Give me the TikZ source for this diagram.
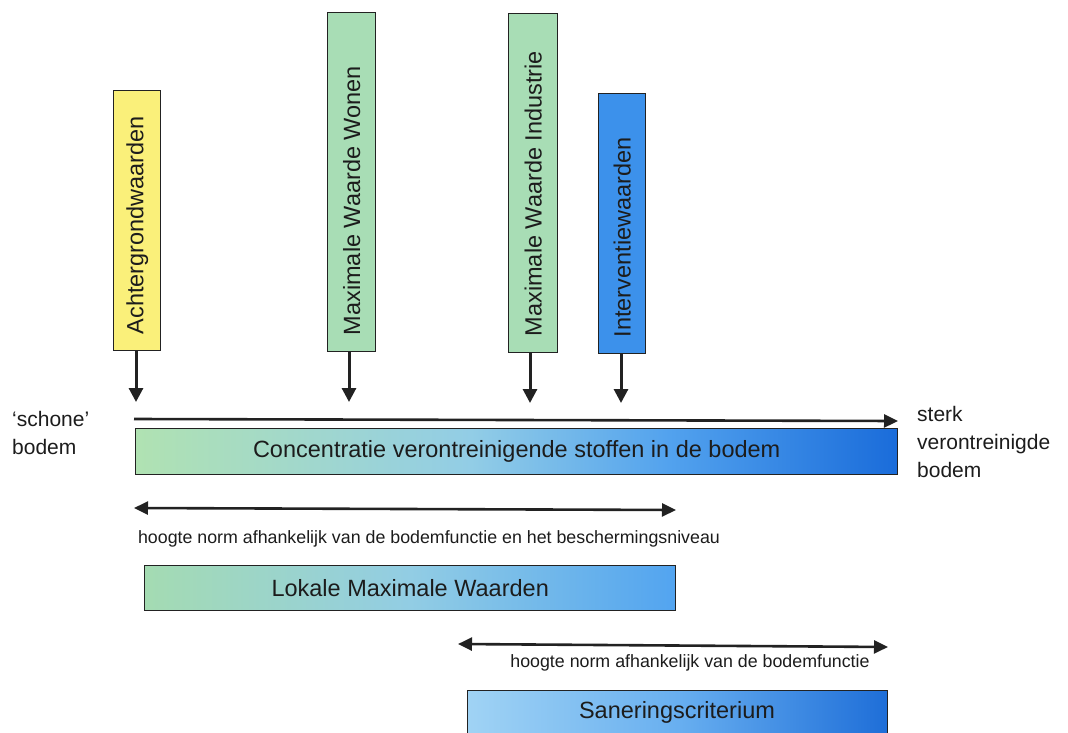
\documentclass[tikz,border=0pt]{standalone}
\usepackage{fontspec}
\setmainfont{Liberation Sans}
\usetikzlibrary{arrows.meta}
\definecolor{txt}{HTML}{1C1C1C}
\definecolor{ink}{HTML}{222222}
\definecolor{yel}{HTML}{FAF07A}
\definecolor{mint}{HTML}{A8DDB5}
\definecolor{blu}{HTML}{3C91EB}
\definecolor{cA}{HTML}{B0E2B2}
\definecolor{cB}{HTML}{92CDE6}
\definecolor{cC}{HTML}{52A2EE}
\definecolor{cD}{HTML}{1A6CDA}
\definecolor{lA}{HTML}{A4DBB2}
\definecolor{lB}{HTML}{92CDE4}
\definecolor{lD}{HTML}{52A4F0}
\definecolor{sA}{HTML}{A0D3F4}
\definecolor{sB}{HTML}{68AFF0}
\definecolor{sD}{HTML}{1E6ED8}
\pgfdeclarehorizontalshading{concshade}{100bp}{color(0bp)=(cA); color(25bp)=(cA); color(47bp)=(cB); color(60bp)=(cC); color(75bp)=(cD); color(100bp)=(cD)}
\pgfdeclarehorizontalshading{lokshade}{100bp}{color(0bp)=(lA); color(25bp)=(lA); color(50bp)=(lB); color(75bp)=(lD); color(100bp)=(lD)}
\pgfdeclarehorizontalshading{sanshade}{100bp}{color(0bp)=(sA); color(25bp)=(sA); color(50bp)=(sB); color(75bp)=(sD); color(100bp)=(sD)}
\begin{document}
\begin{tikzpicture}[x=1pt,y=-1pt,
  box/.style={draw=ink, line width=1.4pt, inner sep=0pt, anchor=north west},
  vlabel/.style={rotate=90, anchor=west, inner sep=0pt, text=txt, font=\fontsize{23.5}{28}\selectfont},
  big/.style={text=txt, font=\fontsize{23.5}{28}\selectfont},
  side/.style={text=txt, font=\fontsize{21}{28}\selectfont, align=left, inner sep=0pt, anchor=base west},
  small/.style={text=txt, font=\fontsize{17.8}{21}\selectfont, inner sep=0pt, anchor=base},
  arr/.style={draw=ink, line width=3pt, -{Triangle[width=14pt,length=14pt]}},
  harr/.style={draw=ink, line width=2.6pt, -{Triangle[width=13pt,length=14pt]}},
  darr/.style={draw=ink, line width=2.6pt, {Triangle[width=13pt,length=14pt]}-{Triangle[width=13pt,length=14pt]}}]
\clip (0,0) rectangle (1068,733);
\useasboundingbox (0,0) rectangle (1068,733);
% vertical boxes
\node[box, fill=yel, minimum width=47pt, minimum height=260pt] (ach) at (113,90) {};
\node[box, fill=mint, minimum width=48pt, minimum height=339pt] (won) at (327,12) {};
\node[box, fill=mint, minimum width=49pt, minimum height=339pt] (ind) at (508,13) {};
\node[box, fill=blu, minimum width=47pt, minimum height=260pt] (int) at (598,93) {};
\node[vlabel] (achT) at ([yshift=17pt]ach.south) {Achtergrondwaarden};
\node[vlabel] (wonT) at ([yshift=17pt]won.south) {Maximale Waarde Wonen};
\node[vlabel] (indT) at ([yshift=17pt]ind.south) {Maximale Waarde Industrie};
\node[vlabel] (intT) at ([yshift=17pt]int.south) {Interventiewaarden};
% down arrows
\coordinate (achTip) at (136,402);
\coordinate (wonTip) at (349,402);
\coordinate (indTip) at (530,403);
\coordinate (intTip) at (621,403);
\draw[arr] (ach.south -| achTip) -- (achTip);
\draw[arr] (won.south -| wonTip) -- (wonTip);
\draw[arr] (ind.south -| indTip) -- (indTip);
\draw[arr] (int.south -| intTip) -- (intTip);
% horizontal axis
\coordinate (hL) at (134,419);
\coordinate (hR) at (898,421);
\draw[harr] (hL) -- (hR);
\node[side] (links) at (12,454) {‘schone’\\bodem};
\node[side] (rechts) at (917,477) {sterk\\verontreinigde\\bodem};
% concentration bar
\node[box, shading=concshade, minimum width=762pt, minimum height=46pt] (conc) at (135,428) {};
\node[big, inner sep=0pt] (concT) at (conc.center) {Concentratie verontreinigende stoffen in de bodem};
% first range
\coordinate (d1L) at (134,508);
\coordinate (d1R) at (676,510);
\draw[darr] (d1L) -- (d1R);
\node[small] (t1) at (429,543) {hoogte norm afhankelijk van de bodemfunctie en het beschermingsniveau};
\node[box, shading=lokshade, minimum width=531pt, minimum height=45pt] (lok) at (144,565) {};
\node[big, inner sep=0pt] (lokT) at (lok.center) {Lokale Maximale Waarden};
% second range
\coordinate (d2L) at (458,644);
\coordinate (d2R) at (888,647);
\draw[darr] (d2L) -- (d2R);
\node[small] (t2) at (690,667) {hoogte norm afhankelijk van de bodemfunctie};
\node[box, shading=sanshade, minimum width=420pt, minimum height=48pt] (san) at (467,690) {};
\node[big, inner sep=0pt] (sanT) at (677,712) {Saneringscriterium};
\end{tikzpicture}
\end{document}
